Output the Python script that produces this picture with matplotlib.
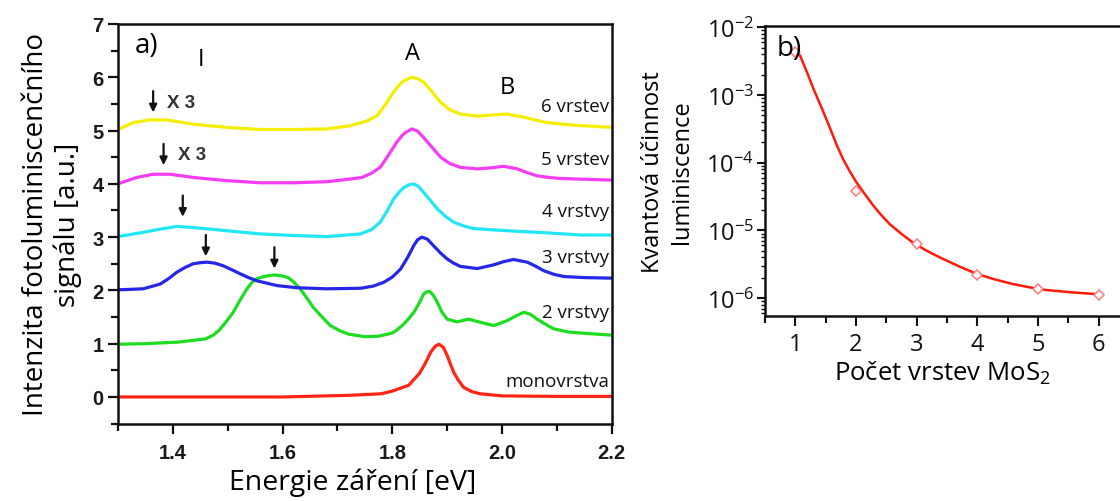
import matplotlib
matplotlib.use("Agg")
import matplotlib.pyplot as plt
from matplotlib.ticker import MultipleLocator, LogLocator, NullFormatter, FixedLocator

plt.rcParams['font.family'] = ['Open Sans', 'DejaVu Sans']
plt.rcParams['mathtext.fontset'] = 'custom'
plt.rcParams['mathtext.rm'] = 'Open Sans'
plt.rcParams['mathtext.it'] = 'Open Sans'

# --- a) PL spectra (energy in eV, intensity offset by layer count) ---
e_1 = [1.30, 1.50, 1.60, 1.68, 1.72, 1.76, 1.78, 1.80, 1.83, 1.85, 1.86, 1.87, 1.878, 1.885,
       1.893, 1.90, 1.905, 1.912, 1.92, 1.93, 1.945, 1.96, 2.00, 2.10, 2.20]
i_1 = [0.00, 0.00, 0.00, 0.02, 0.03, 0.05, 0.06, 0.11, 0.22, 0.45, 0.63, 0.84, 0.95, 0.99,
       0.93, 0.78, 0.64, 0.46, 0.32, 0.18, 0.10, 0.06, 0.02, 0.01, 0.01]

e_2 = [1.30, 1.35, 1.41, 1.46, 1.475, 1.485, 1.497, 1.51, 1.522, 1.535, 1.545, 1.553, 1.57,
       1.585, 1.60, 1.61, 1.62, 1.632, 1.644, 1.656, 1.672, 1.687, 1.705, 1.72, 1.75, 1.775,
       1.80, 1.81, 1.82, 1.83, 1.84, 1.85, 1.857, 1.862, 1.868, 1.874, 1.882, 1.89, 1.90,
       1.918, 1.939, 1.961, 1.985, 2.009, 2.025, 2.04, 2.052, 2.064, 2.08, 2.094, 2.12, 2.143,
       2.20]
i_2 = [0.99, 1.00, 1.03, 1.09, 1.17, 1.26, 1.41, 1.59, 1.81, 2.03, 2.16, 2.22, 2.27,
       2.29, 2.27, 2.24, 2.16, 2.03, 1.86, 1.68, 1.50, 1.34, 1.24, 1.18, 1.13, 1.14,
       1.20, 1.27, 1.36, 1.47, 1.60, 1.78, 1.93, 1.97, 1.98, 1.92, 1.78, 1.60, 1.46,
       1.41, 1.46, 1.40, 1.34, 1.43, 1.52, 1.59, 1.55, 1.46, 1.36, 1.28, 1.22, 1.20,
       1.16]

e_3 = [1.30, 1.346, 1.377, 1.392, 1.407, 1.422, 1.437, 1.45, 1.462, 1.477, 1.492, 1.507, 1.523,
       1.538, 1.553, 1.59, 1.626, 1.68, 1.742, 1.765, 1.784, 1.80, 1.815, 1.828, 1.839, 1.846,
       1.854, 1.864, 1.875, 1.888, 1.90, 1.912, 1.924, 1.955, 1.985, 2.003, 2.021, 2.046, 2.062,
       2.076, 2.095, 2.113, 2.15, 2.20]
i_3 = [2.01, 2.03, 2.12, 2.22, 2.34, 2.43, 2.50, 2.52, 2.53, 2.51, 2.46, 2.39, 2.31,
       2.24, 2.18, 2.09, 2.05, 2.03, 2.04, 2.08, 2.15, 2.25, 2.40, 2.62, 2.84, 2.95,
       3.00, 2.96, 2.84, 2.70, 2.59, 2.51, 2.45, 2.41, 2.48, 2.54, 2.58, 2.53, 2.45,
       2.37, 2.30, 2.26, 2.24, 2.23]

e_4 = [1.30, 1.346, 1.377, 1.407, 1.437, 1.468, 1.498, 1.559, 1.62, 1.681, 1.742, 1.762, 1.778,
       1.79, 1.802, 1.812, 1.821, 1.830, 1.839, 1.848, 1.857, 1.87, 1.882, 1.897, 1.912, 1.93,
       1.948, 2.009, 2.082, 2.143, 2.20]
i_4 = [3.01, 3.09, 3.15, 3.20, 3.18, 3.15, 3.12, 3.06, 3.03, 3.01, 3.06, 3.14, 3.28,
       3.48, 3.71, 3.84, 3.93, 3.98, 4.00, 3.95, 3.84, 3.68, 3.53, 3.39, 3.28, 3.21,
       3.16, 3.12, 3.08, 3.04, 3.04]

e_5 = [1.30, 1.334, 1.364, 1.395, 1.437, 1.498, 1.559, 1.62, 1.681, 1.723, 1.745, 1.762, 1.778,
       1.793, 1.808, 1.818, 1.825, 1.836, 1.846, 1.857, 1.872, 1.888, 1.905, 1.924, 1.955, 1.98,
       2.003, 2.028, 2.046, 2.064, 2.085, 2.107, 2.20]
i_5 = [4.00, 4.12, 4.18, 4.18, 4.12, 4.06, 4.02, 4.02, 4.04, 4.09, 4.12, 4.20, 4.31,
       4.54, 4.78, 4.91, 4.97, 5.03, 4.99, 4.87, 4.69, 4.50, 4.38, 4.31, 4.28, 4.30,
       4.33, 4.28, 4.21, 4.15, 4.12, 4.10, 4.07]

e_6 = [1.30, 1.328, 1.358, 1.389, 1.437, 1.498, 1.559, 1.62, 1.681, 1.723, 1.754, 1.772, 1.787,
       1.802, 1.812, 1.822, 1.836, 1.847, 1.857, 1.872, 1.888, 1.905, 1.924, 1.955, 1.98, 2.009,
       2.04, 2.06, 2.082, 2.131, 2.20]
i_6 = [5.02, 5.15, 5.20, 5.20, 5.12, 5.06, 5.02, 5.02, 5.03, 5.09, 5.18, 5.28, 5.48,
       5.72, 5.85, 5.94, 6.00, 5.97, 5.91, 5.73, 5.53, 5.39, 5.31, 5.27, 5.29, 5.31,
       5.25, 5.20, 5.15, 5.10, 5.06]

layer_names = ['monovrstva', '2 vrstvy', '3 vrstvy', '4 vrstvy', '5 vrstev', '6 vrstev']
layer_colors = ['#ff2414', '#1edc1e', '#2626e8', '#22e6f2', '#f53cf5', '#f5ee00']
# indirect-gap peak positions marked by arrows
arrow_e = [1.585, 1.46, 1.418, 1.383, 1.364]

# --- b) quantum efficiency vs number of layers ---
n_layers = [1, 2, 3, 4, 5, 6]
qe = [4.3e-3, 3.8e-5, 6.3e-6, 2.2e-6, 1.35e-6, 1.12e-6]
fit_n = [1.0, 1.08, 1.19, 1.30, 1.44, 1.575, 1.68, 1.79, 1.90, 2.01, 2.15, 2.29, 2.42, 2.56,
         2.75, 2.94, 3.15, 3.38, 3.68, 3.98, 4.28, 4.58, 4.85, 5.13, 5.55, 5.95, 6.0]
fit_qe = [4.7e-3, 3.8e-3, 2.2e-3, 1.23e-3, 6.3e-4, 3.2e-4, 1.85e-4, 1.12e-4, 7.4e-5, 5.1e-5,
          3.4e-5, 2.3e-5, 1.67e-5, 1.23e-5, 8.9e-6, 6.6e-6, 5.1e-6, 4.0e-6, 3.0e-6, 2.3e-6,
          1.9e-6, 1.62e-6, 1.45e-6, 1.32e-6, 1.22e-6, 1.15e-6, 1.13e-6]

fig = plt.figure(figsize=(11.2, 5.02), dpi=100)

# ---------------- panel a ----------------
ax = fig.add_axes([0.1054, 0.1542, 0.4408, 0.796])
spectra = [(e_1, i_1), (e_2, i_2), (e_3, i_3), (e_4, i_4), (e_5, i_5), (e_6, i_6)]
for (e, i), c in zip(spectra, layer_colors):
    ax.plot(e, i, color=c, lw=2.3, solid_joinstyle='round')

ax.set_xlim(1.3, 2.2)
ax.set_ylim(-0.5, 7)
tick_font = dict(family=['Liberation Sans', 'DejaVu Sans'], fontweight='bold', fontsize=14.5,
                 color='#1a1a1a')
ax.set_xticks([1.4, 1.6, 1.8, 2.0, 2.2], ['1.4', '1.6', '1.8', '2.0', '2.2'], **tick_font)
ax.set_yticks(range(8), [str(v) for v in range(8)], **tick_font)
ax.xaxis.set_minor_locator(FixedLocator([1.3, 1.5, 1.7, 1.9, 2.1]))
ax.yaxis.set_minor_locator(MultipleLocator(0.5))
ax.tick_params(which='both', direction='out', width=1.6, color='#111', top=False, right=False)
ax.tick_params(which='major', length=7)
ax.tick_params(which='minor', length=5)
ax.tick_params(axis='x', pad=7)
for s in ax.spines.values():
    s.set_linewidth(1.8)
    s.set_color('#111')

ax.set_xlabel('Energie záření [eV]', fontsize=20.5, labelpad=4)
ax.xaxis.label.set_x(0.476)
ax.set_ylabel('Intenzita fotoluminiscenčního\nsignálu [a.u.]', fontsize=20, labelpad=7,
              linespacing=1.2)

for name, y in zip(layer_names, [0.3, 1.6, 2.63, 3.49, 4.47, 5.46]):
    ax.text(2.195, y, name, ha='right', va='center', fontsize=13.5, color='#111')

ax.text(1.33, 6.6, 'a)', fontsize=20, ha='left', va='center')
ax.text(1.452, 6.35, 'I', fontsize=17, ha='center', va='center')
ax.text(1.836, 6.45, 'A', fontsize=17, ha='center', va='center')
ax.text(2.01, 5.82, 'B', fontsize=17, ha='center', va='center')

arrow_top = [2.81, 3.04, 3.78, 4.75, 5.74]
for e, top in zip(arrow_e, arrow_top):
    ax.annotate('', xy=(e, top - 0.4), xytext=(e, top),
                arrowprops=dict(arrowstyle='-|>,head_width=0.22,head_length=0.45',
                                color='#111', lw=1.6, shrinkA=0, shrinkB=0))
ax.text(1.39, 5.53, 'X 3', fontsize=13.5, fontweight='bold', ha='left', va='center',
        family=['Liberation Sans', 'DejaVu Sans'], color='#333')
ax.text(1.41, 4.56, 'X 3', fontsize=13.5, fontweight='bold', ha='left', va='center',
        family=['Liberation Sans', 'DejaVu Sans'], color='#333')

# ---------------- panel b ----------------
bx = fig.add_axes([0.683, 0.369, 0.317, 0.5777])
bx.plot(fit_n, fit_qe, color='#ff1a0a', lw=1.8)
bx.plot(n_layers, qe, ls='none', marker='D', ms=5.5, mfc='white', mec='#ff7a7a', mew=1.1)
bx.set_yscale('log')
bx.set_xlim(0.5, 6.35)
bx.set_ylim(10 ** -6.26, 10 ** -1.976)
bx.xaxis.set_major_locator(MultipleLocator(1))
bx.xaxis.set_minor_locator(MultipleLocator(0.5))
bx.yaxis.set_major_locator(LogLocator(base=10, numticks=10))
bx.yaxis.set_minor_locator(LogLocator(base=10, subs=range(2, 10), numticks=10))
bx.yaxis.set_minor_formatter(NullFormatter())
bx.tick_params(which='both', direction='out', width=1.5, colors='#111', top=False, right=False)
bx.tick_params(axis='x', which='major', length=7, labelsize=17, pad=5)
bx.tick_params(axis='x', which='minor', length=5)
bx.tick_params(axis='y', which='major', length=6, labelsize=17, pad=2)
bx.tick_params(axis='y', which='minor', length=3, width=1)
bx.spines['right'].set_visible(False)
for s in ['left', 'top', 'bottom']:
    bx.spines[s].set_linewidth(1.8)
    bx.spines[s].set_color('#111')

bx.set_xlabel('Počet vrstev MoS$_2$', fontsize=18.5, labelpad=2)
bx.set_ylabel('Kvantová účinnost\nluminiscence', fontsize=17, labelpad=9, linespacing=1.25)
bx.text(0.7, 10 ** -2.3, 'b)', fontsize=20, ha='left', va='center')

fig.savefig('out.png', dpi=100)
